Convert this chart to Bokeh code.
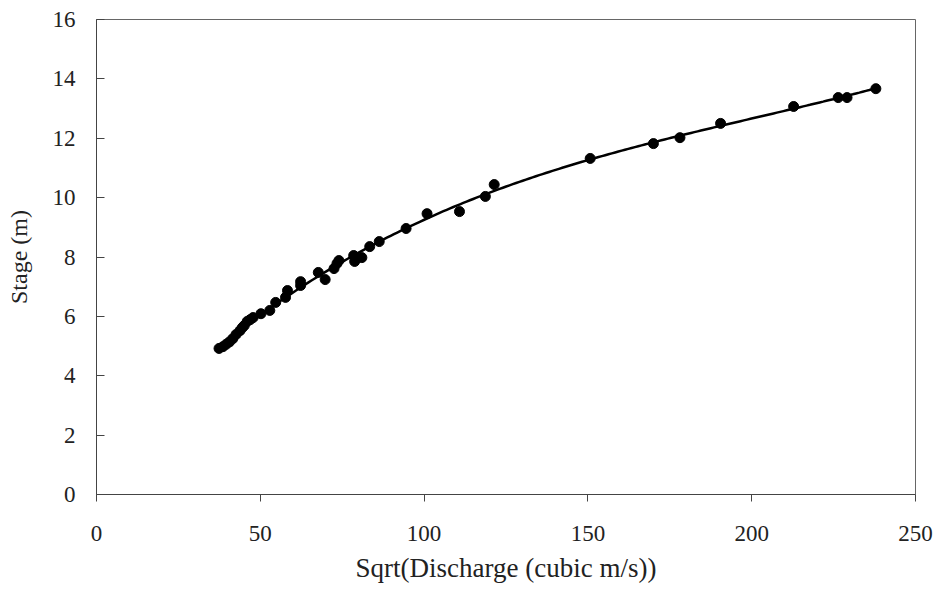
import numpy as np
from bokeh.plotting import figure
from bokeh.models import Range1d, SingleIntervalTicker
from bokeh.embed import file_html
from bokeh.resources import INLINE

sqrt_q = [37.4, 38.6, 39.6, 40.6, 41.6, 42.6, 43.8, 44.5, 45.1, 46.0, 46.9, 47.8,
          50.2, 52.9, 54.7, 57.7, 58.3, 62.3, 62.3, 67.7, 69.8, 72.5, 73.4, 74.0,
          78.5, 78.8, 81.0, 83.4, 86.3, 94.5, 100.9, 110.8, 118.7, 121.4,
          150.7, 170.0, 178.1, 190.5, 212.8, 226.4, 229.1, 237.9]
stage = [4.92, 4.98, 5.06, 5.14, 5.25, 5.39, 5.52, 5.62, 5.69, 5.83, 5.89, 5.96,
         6.09, 6.20, 6.47, 6.64, 6.87, 7.04, 7.17, 7.48, 7.24, 7.61, 7.78, 7.88,
         8.05, 7.85, 7.98, 8.35, 8.52, 8.96, 9.46, 9.53, 10.04, 10.44,
         11.32, 11.82, 12.02, 12.50, 13.07, 13.37, 13.37, 13.67]

# Trend line fitted to the observations
coef = np.polyfit(sqrt_q, stage, 3)
fit_x = np.linspace(min(sqrt_q), max(sqrt_q), 200)
fit_y = np.polyval(coef, fit_x)

FONT = "Liberation Serif"

p = figure(width=933, height=585, output_backend="svg", toolbar_location=None,
           x_range=Range1d(0, 250), y_range=Range1d(0, 16),
           min_border_left=96, min_border_right=18, min_border_top=19,
           min_border_bottom=91)
p.background_fill_color = "white"
p.border_fill_color = "white"
p.outline_line_color = "#666666"
p.outline_line_width = 1
p.xgrid.visible = False
p.ygrid.visible = False

p.line(fit_x, fit_y, line_color="black", line_width=2.5)
p.scatter(sqrt_q, stage, size=10, fill_color="black", line_color="black")

p.xaxis.ticker = SingleIntervalTicker(interval=50)
p.yaxis.ticker = SingleIntervalTicker(interval=2)
p.xaxis.minor_tick_line_color = None
p.yaxis.minor_tick_line_color = None
p.xaxis.major_tick_in = 0
p.xaxis.major_tick_out = 7
p.yaxis.major_tick_in = 8
p.yaxis.major_tick_out = 0
for ax in (p.xaxis, p.yaxis):
    ax.axis_line_color = "#444444"
    ax.major_tick_line_color = "#444444"
    ax.major_label_text_font = FONT
    ax.major_label_text_font_size = "23px"
    ax.major_label_text_color = "#222222"
    ax.axis_label_text_font = FONT
    ax.axis_label_text_font_style = "normal"
    ax.axis_label_text_color = "#222222"
p.xaxis.axis_label_text_font_size = "27px"
p.yaxis.axis_label_text_font_size = "24px"
p.yaxis.major_label_standoff = 17
p.xaxis.major_label_standoff = 24
p.xaxis.axis_label = "Sqrt(Discharge (cubic m/s))"
p.yaxis.axis_label = "Stage (m)"
p.xaxis.axis_label_standoff = 9
p.yaxis.axis_label_standoff = 18

open("out.html", "w").write(file_html(p, INLINE))
